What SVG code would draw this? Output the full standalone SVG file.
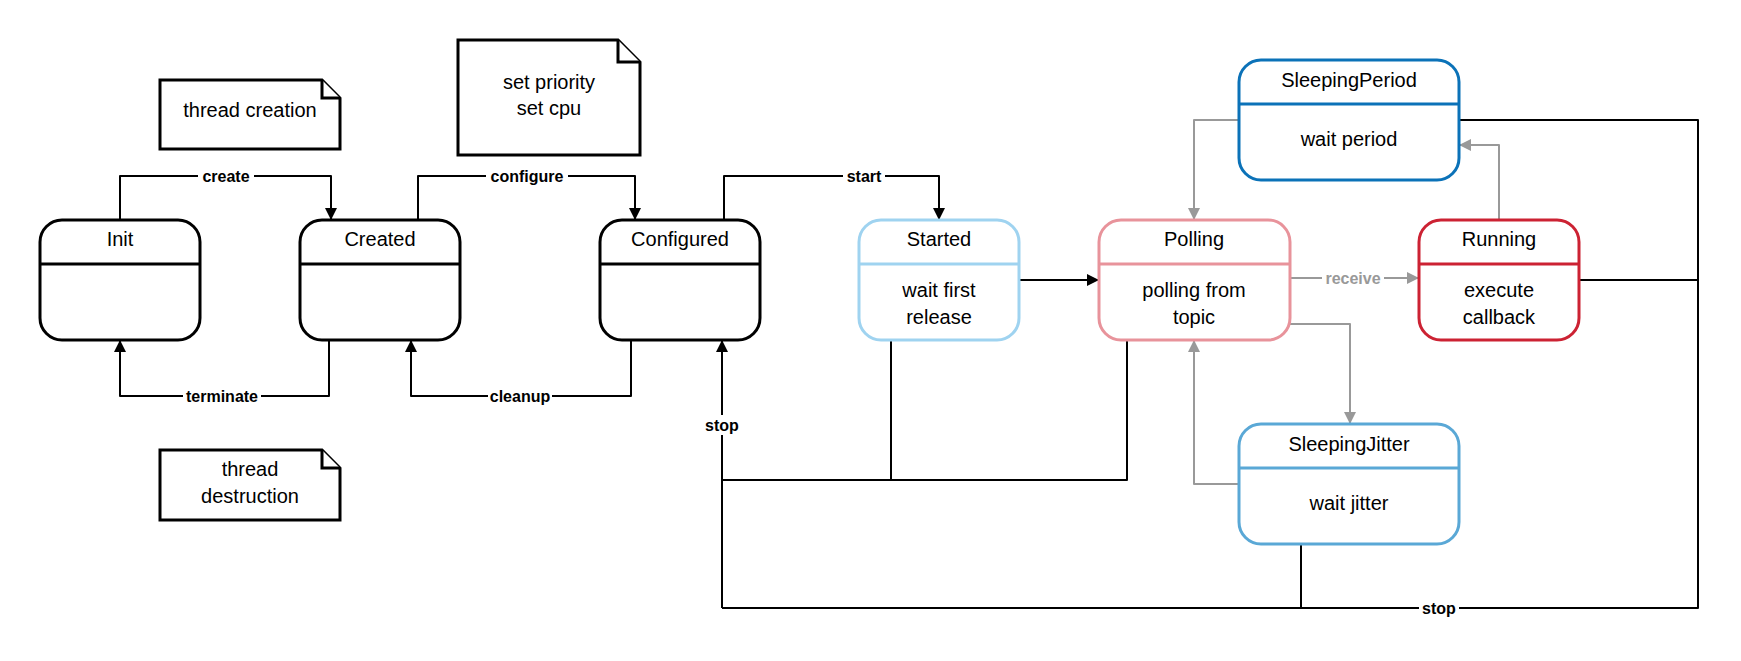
<svg xmlns="http://www.w3.org/2000/svg" width="1741" height="661" viewBox="0 0 1741 661">
<defs>
<marker id="ab" viewBox="0 0 10 10" refX="10" refY="5" markerWidth="16" markerHeight="12" markerUnits="userSpaceOnUse" orient="auto"><path d="M0,0L10,5L0,10z" fill="#000"/></marker>
<marker id="ag" viewBox="0 0 10 10" refX="10" refY="5" markerWidth="16" markerHeight="12" markerUnits="userSpaceOnUse" orient="auto"><path d="M0,0L10,5L0,10z" fill="#999"/></marker>
</defs>
<style>
text{font-family:"Liberation Sans",Arial,sans-serif;font-size:20px;fill:#000;text-anchor:middle}
.box{fill:#fff;stroke-width:3}
.note{fill:#fff;stroke:#000;stroke-width:3}
.c{fill:none;stroke:#000;stroke-width:2;stroke-linejoin:round}
.g{fill:none;stroke:#999;stroke-width:2;stroke-linejoin:round}
.l{font-size:16px;font-weight:bold}
.lb{fill:#fff;stroke:none}
</style>
<rect width="1741" height="661" fill="#fff"/>
<g id="connectors">
<path class="c" d="M120,220V176H331V220" marker-end="url(#ab)"/>
<path class="c" d="M418,220V176H635V220" marker-end="url(#ab)"/>
<path class="c" d="M724,220V176H939V220" marker-end="url(#ab)"/>
<path class="c" d="M329,340V396H120V340" marker-end="url(#ab)"/>
<path class="c" d="M631,340V396H411V340" marker-end="url(#ab)"/>
<path class="c" d="M1019,280H1099" marker-end="url(#ab)"/>
<path class="g" d="M1290,278H1419" marker-end="url(#ag)"/>
<path class="g" d="M1290,324H1350V424" marker-end="url(#ag)"/>
<path class="g" d="M1239,484H1194V340" marker-end="url(#ag)"/>
<path class="g" d="M1239,120H1194V220" marker-end="url(#ag)"/>
<path class="g" d="M1499,220V145H1459" marker-end="url(#ag)"/>
<path class="c" d="M891,340V480H722"/>
<path class="c" d="M1127,340V480H722"/>
<path class="c" d="M1301,544V608H722"/>
<path class="c" d="M1459,120H1698V608H722"/>
<path class="c" d="M1579,280H1698"/>
<path class="c" d="M722,608V340" marker-end="url(#ab)"/>
<rect class="lb" x="198" y="166" width="56" height="20"/><text class="l" x="226" y="182">create</text>
<rect class="lb" x="486" y="166" width="82" height="20"/><text class="l" x="527" y="182">configure</text>
<rect class="lb" x="843" y="166" width="42" height="20"/><text class="l" x="864" y="182">start</text>
<rect class="lb" x="183" y="386" width="78" height="20"/><text class="l" x="222" y="402">terminate</text>
<rect class="lb" x="488" y="386" width="64" height="20"/><text class="l" x="520" y="402">cleanup</text>
<rect class="lb" x="1322" y="268" width="62" height="20"/><text class="l" x="1353" y="284" style="fill:#999">receive</text>
<rect class="lb" x="702" y="415" width="40" height="20"/><text class="l" x="722" y="431">stop</text>
<rect class="lb" x="1419" y="598" width="40" height="20"/><text class="l" x="1439" y="614">stop</text>
</g>
<g id="note-creation"><path class="note" d="M160,80H322L340,98V149H160Z"/><path class="note" d="M322,80V98H340"/><text x="250" y="117">thread creation</text></g>
<g id="note-config"><path class="note" d="M458,40H618L640,62V155H458Z"/><path class="note" d="M618,40V62H640"/><text x="549" y="89">set priority</text><text x="549" y="115">set cpu</text></g>
<g id="note-destruction"><path class="note" d="M160,450H322L340,468V520H160Z"/><path class="note" d="M322,450V468H340"/><text x="250" y="476">thread</text><text x="250" y="503">destruction</text></g>
<g id="Init"><rect class="box" x="40" y="220" width="160" height="120" rx="22" stroke="#000"/><path d="M40,264H200" stroke="#000" stroke-width="3"/><text x="120" y="246">Init</text></g>
<g id="Created"><rect class="box" x="300" y="220" width="160" height="120" rx="22" stroke="#000"/><path d="M300,264H460" stroke="#000" stroke-width="3"/><text x="380" y="246">Created</text></g>
<g id="Configured"><rect class="box" x="600" y="220" width="160" height="120" rx="22" stroke="#000"/><path d="M600,264H760" stroke="#000" stroke-width="3"/><text x="680" y="246">Configured</text></g>
<g id="Started"><rect class="box" x="859" y="220" width="160" height="120" rx="22" stroke="#9fd3f0"/><path d="M859,264H1019" stroke="#9fd3f0" stroke-width="3"/><text x="939" y="246">Started</text><text x="939" y="297">wait first</text><text x="939" y="324">release</text></g>
<g id="Polling"><rect class="box" x="1099" y="220" width="191" height="120" rx="22" stroke="#e8939b"/><path d="M1099,264H1290" stroke="#e8939b" stroke-width="3"/><text x="1194" y="246">Polling</text><text x="1194" y="297">polling from</text><text x="1194" y="324">topic</text></g>
<g id="Running"><rect class="box" x="1419" y="220" width="160" height="120" rx="22" stroke="#cc2233"/><path d="M1419,264H1579" stroke="#cc2233" stroke-width="3"/><text x="1499" y="246">Running</text><text x="1499" y="297">execute</text><text x="1499" y="324">callback</text></g>
<g id="SleepingPeriod"><rect class="box" x="1239" y="60" width="220" height="120" rx="22" stroke="#0b72b8"/><path d="M1239,104H1459" stroke="#0b72b8" stroke-width="3"/><text x="1349" y="87">SleepingPeriod</text><text x="1349" y="146">wait period</text></g>
<g id="SleepingJitter"><rect class="box" x="1239" y="424" width="220" height="120" rx="22" stroke="#5aa8d6"/><path d="M1239,468H1459" stroke="#5aa8d6" stroke-width="3"/><text x="1349" y="451">SleepingJitter</text><text x="1349" y="510">wait jitter</text></g>
</svg>
